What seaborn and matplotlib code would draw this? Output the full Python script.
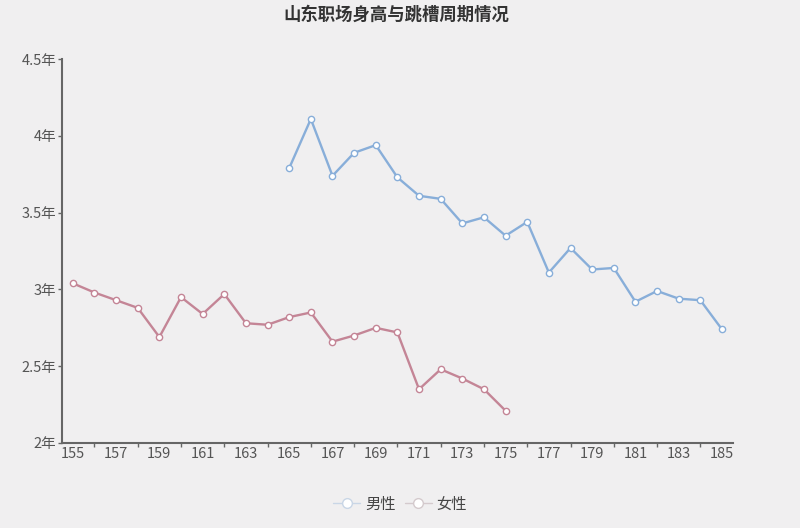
import matplotlib
matplotlib.use("Agg")
import matplotlib.pyplot as plt
from matplotlib.lines import Line2D
from matplotlib.ticker import FixedLocator
import seaborn as sns
import pandas as pd

# Data
heights_female = list(range(155, 176))
years_female = [3.04, 2.98, 2.93, 2.88, 2.69, 2.95, 2.84, 2.97, 2.78, 2.77, 2.82,
                2.85, 2.66, 2.70, 2.75, 2.72, 2.35, 2.48, 2.42, 2.35, 2.21]
heights_male = list(range(165, 186))
years_male = [3.79, 4.11, 3.74, 3.89, 3.94, 3.73, 3.61, 3.59, 3.43, 3.47, 3.35,
              3.44, 3.11, 3.27, 3.13, 3.14, 2.92, 2.99, 2.94, 2.93, 2.74]
y_ticks = [2, 2.5, 3, 3.5, 4, 4.5]
y_labels = ["2年", "2.5年", "3年", "3.5年", "4年", "4.5年"]
x_labels = list(range(155, 186, 2))

df = pd.concat([
    pd.DataFrame({"身高": heights_male, "周期": years_male, "性别": "男性"}),
    pd.DataFrame({"身高": heights_female, "周期": years_female, "性别": "女性"}),
])

bg = "#f0eff0"
blue = "#88aed9"
pink = "#c48596"

sns.set_theme(style="white")
plt.rcParams["font.family"] = ["Noto Sans CJK SC", "DejaVu Sans"]

fig = plt.figure(figsize=(8, 5.28), dpi=100, facecolor=bg)
ax = fig.add_axes([0.0775, 0.161, 0.8385, 0.727])
ax.set_facecolor(bg)

sns.lineplot(data=df, x="身高", y="周期", hue="性别", palette={"男性": blue, "女性": pink},
             marker="o", markersize=4.5, markerfacecolor="white", markeredgewidth=1.0,
             linewidth=1.7, legend=False, ax=ax)
for ln, col in zip(ax.lines, [blue, pink]):
    ln.set_markeredgecolor(col)

ax.set_xlim(154.5, 185.5)
ax.set_ylim(2, 4.5)
ax.set_yticks(y_ticks)
ax.set_yticklabels(y_labels)
ax.set_xticks(x_labels)
ax.set_xticklabels([str(v) for v in x_labels])
ax.xaxis.set_minor_locator(FixedLocator(list(range(156, 186, 2))))
ax.tick_params(axis="x", which="major", length=0, pad=3, labelsize=10.5, labelcolor="#555555")
ax.tick_params(axis="x", which="minor", length=3, width=1, color="#666666", direction="out", bottom=True)
ax.tick_params(axis="y", which="major", length=3, width=1, color="#666666", direction="out",
               left=True, pad=1, labelsize=10.5, labelcolor="#555555")
ax.set_xlabel("")
ax.set_ylabel("")

for s in ["top", "right"]:
    ax.spines[s].set_visible(False)
for s in ["left", "bottom"]:
    ax.spines[s].set_color("#666666")
    ax.spines[s].set_linewidth(1.5)

fig.text(0.495, 0.972, "山东职场身高与跳槽周期情况", ha="center", va="center",
         fontsize=12.5, fontweight="bold", color="#333333")

handles = [
    Line2D([], [], color="#c9d6e6", lw=1, marker="o", markersize=7,
           markerfacecolor="white", markeredgecolor="#c9d6e6"),
    Line2D([], [], color="#d4cacd", lw=1, marker="o", markersize=7,
           markerfacecolor="white", markeredgecolor="#d4cacd"),
]
fig.legend(handles, ["男性", "女性"], loc="center", bbox_to_anchor=(0.5, 0.045), ncol=2,
           frameon=False, fontsize=11, labelcolor="#444444", handlelength=1.8,
           handletextpad=0.3, columnspacing=0.6)

fig.savefig("out.png", dpi=100, facecolor=bg)
